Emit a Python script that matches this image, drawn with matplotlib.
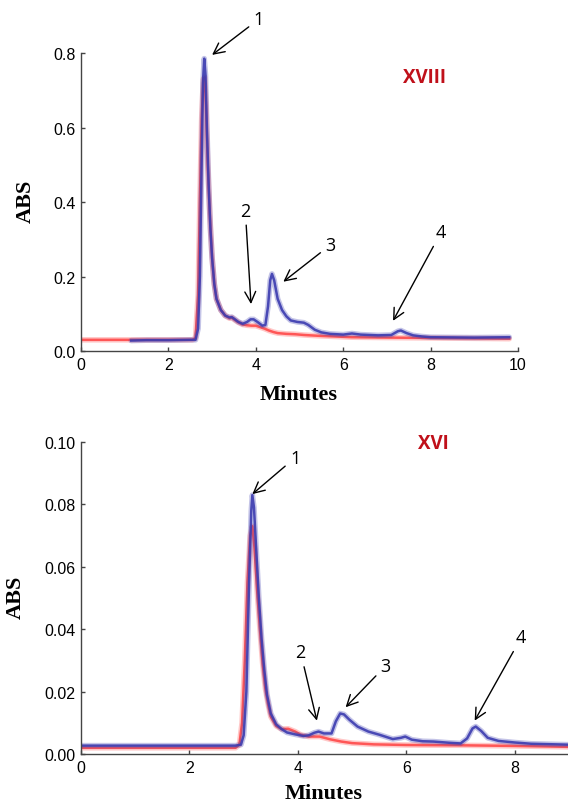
import numpy as np
import matplotlib
matplotlib.use('Agg')
import matplotlib.pyplot as plt

plt.rcParams['font.family'] = ['Liberation Sans', 'DejaVu Sans']

RED = '#ff4a4a'
BLUE = '#3c3cb0'
LABEL_RED = '#c0101a'

# chromatogram XVIII (top)
top_red_t = [0.0, 2.55, 2.62, 2.68, 2.72, 2.76, 2.80, 2.83, 2.86, 2.90, 2.95, 3.00, 3.05,
             3.10, 3.20, 3.30, 3.40, 3.45, 3.50, 3.60, 3.70, 3.80, 3.90, 4.00, 4.10, 4.20,
             4.30, 4.40, 4.50, 4.70, 4.90, 5.10, 5.40, 5.80, 6.20, 7.00, 8.00, 9.00, 9.80]
top_red_a = [0.030, 0.030, 0.035, 0.15, 0.40, 0.62, 0.73, 0.735, 0.66, 0.50, 0.36, 0.25, 0.18,
             0.14, 0.11, 0.095, 0.088, 0.090, 0.085, 0.077, 0.071, 0.069, 0.068, 0.068, 0.064, 0.060,
             0.055, 0.051, 0.048, 0.046, 0.045, 0.043, 0.041, 0.039, 0.037, 0.036, 0.035, 0.034, 0.033]

top_blue_t = [1.15, 1.50, 2.00, 2.50, 2.62, 2.68, 2.72, 2.76, 2.79, 2.82, 2.85, 2.88, 2.92,
              2.96, 3.00, 3.05, 3.10, 3.20, 3.30, 3.40, 3.45, 3.50, 3.60, 3.70, 3.80, 3.88,
              3.95, 4.05, 4.15, 4.22, 4.28, 4.33, 4.37, 4.42, 4.50, 4.60, 4.70, 4.80, 4.95,
              5.10, 5.20, 5.35, 5.50, 5.70, 6.00, 6.20, 6.40, 6.80, 7.10, 7.25, 7.32, 7.45,
              7.60, 7.80, 8.00, 9.00, 9.80]
top_blue_a = [0.028, 0.029, 0.029, 0.030, 0.030, 0.06, 0.20, 0.50, 0.72, 0.785, 0.74, 0.60, 0.45,
              0.33, 0.25, 0.18, 0.14, 0.11, 0.095, 0.090, 0.091, 0.087, 0.078, 0.073, 0.078, 0.085,
              0.085, 0.077, 0.068, 0.070, 0.12, 0.19, 0.207, 0.19, 0.14, 0.11, 0.093, 0.082, 0.078,
              0.076, 0.070, 0.057, 0.050, 0.046, 0.044, 0.047, 0.044, 0.042, 0.043, 0.053, 0.055, 0.048,
              0.042, 0.039, 0.037, 0.036, 0.037]

# chromatogram XVI (bottom)
bot_red_t = [0.0, 2.85, 2.92, 2.97, 3.02, 3.07, 3.12, 3.16, 3.20, 3.25, 3.30, 3.35, 3.40,
             3.45, 3.50, 3.60, 3.70, 3.82, 3.95, 4.05, 4.20, 4.40, 4.60, 4.80, 5.00, 5.40,
             6.00, 7.00, 8.00, 9.00]
bot_red_a = [0.0020, 0.0020, 0.0030, 0.010, 0.030, 0.055, 0.070, 0.073, 0.066, 0.052, 0.040, 0.029, 0.021,
             0.016, 0.012, 0.0090, 0.0080, 0.0081, 0.0072, 0.0062, 0.0056, 0.0056, 0.0047, 0.0040, 0.0035, 0.0031,
             0.0029, 0.0028, 0.0026, 0.0023]

bot_blue_t = [0.0, 2.85, 2.95, 3.00, 3.05, 3.10, 3.14, 3.16, 3.19, 3.23, 3.28, 3.33, 3.38,
              3.43, 3.50, 3.60, 3.70, 3.80, 3.95, 4.10, 4.20, 4.30, 4.38, 4.48, 4.62, 4.70,
              4.78, 4.85, 4.95, 5.10, 5.30, 5.50, 5.75, 5.90, 5.98, 6.10, 6.30, 6.50, 6.80,
              7.00, 7.12, 7.22, 7.28, 7.38, 7.50, 7.70, 8.00, 8.30, 9.00]
bot_blue_a = [0.0027, 0.0027, 0.0030, 0.006, 0.020, 0.055, 0.078, 0.083, 0.079, 0.066, 0.050, 0.037, 0.027,
              0.019, 0.013, 0.0095, 0.0080, 0.0069, 0.0063, 0.0058, 0.0060, 0.0068, 0.0072, 0.0066, 0.0066, 0.0105,
              0.0130, 0.0127, 0.0110, 0.0088, 0.0072, 0.0062, 0.0048, 0.0052, 0.0056, 0.0046, 0.0041, 0.0040, 0.0036,
              0.0034, 0.0050, 0.0082, 0.0088, 0.0074, 0.0052, 0.0042, 0.0037, 0.0033, 0.0030]

# peak labels: (label, arrow tip, text position)
top_peaks = [('1', (3.00, 0.795), (4.07, 0.891)),
             ('2', (3.89, 0.126), (3.76, 0.377)),
             ('3', (4.63, 0.186), (5.71, 0.285)),
             ('4', (7.14, 0.081), (8.24, 0.319))]
bot_peaks = [('1', (3.16, 0.0833), (3.95, 0.0950)),
             ('2', (4.35, 0.0107), (4.05, 0.0326)),
             ('3', (4.88, 0.0150), (5.62, 0.0283)),
             ('4', (7.26, 0.0107), (8.12, 0.0374))]


def trace(ax, t, a, col):
    ax.plot(t, a, color=col, lw=4.0, alpha=0.3, solid_capstyle='round')
    ax.plot(t, a, color=col, lw=1.8, alpha=0.9)


def style(ax, xlim, ylim, xticks, yticks, xlab_y, ylab_x):
    ax.set_xlim(*xlim); ax.set_ylim(*ylim)
    ax.set_xticks(xticks)
    ax.set_yticks(yticks)
    for s in ['top', 'right']:
        ax.spines[s].set_visible(False)
    for s in ['left', 'bottom']:
        ax.spines[s].set_color('#444444'); ax.spines[s].set_linewidth(1.0)
    ax.tick_params(direction='in', length=3, width=1, color='#444444',
                   labelsize=11.5, pad=4)
    ax.set_xlabel('Minutes', family='Liberation Serif', fontweight='bold', fontsize=16, va='center')
    ax.set_ylabel('ABS', family='Liberation Serif', fontweight='bold', fontsize=16, va='center')
    ax.xaxis.set_label_coords(0.498, xlab_y)
    ax.yaxis.set_label_coords(ylab_x, 0.505)


def peaks(ax, items):
    for lab, tip, txt in items:
        ax.annotate(lab, xy=tip, xytext=txt, ha='center', va='center',
                    fontsize=13, family='Open Sans', annotation_clip=False,
                    arrowprops=dict(arrowstyle='->,head_length=0.6,head_width=0.3',
                                    color='black', lw=1.0, shrinkA=2, shrinkB=0))


fig = plt.figure(figsize=(5.68, 8.04), dpi=100)
ax1 = fig.add_axes([0.1426, 0.5622, 0.7694, 0.3706])
ax2 = fig.add_axes([0.1426, 0.0609, 0.8592, 0.3881])

trace(ax1, top_red_t, top_red_a, RED)
trace(ax1, top_blue_t, top_blue_a, BLUE)
style(ax1, (0, 10), (0, 0.8), [0, 2, 4, 6, 8, 10], [0, 0.2, 0.4, 0.6, 0.8], -0.144, -0.126)
peaks(ax1, top_peaks)
ax1.text(7.87, 0.735, 'XVIII', color=LABEL_RED, fontsize=13.5, fontweight='bold',
         family='Open Sans', ha='center', va='center')

trace(ax2, bot_red_t, bot_red_a, RED)
trace(ax2, bot_blue_t, bot_blue_a, BLUE)
style(ax2, (0, 9), (0, 0.10), [0, 2, 4, 6, 8], [0, 0.02, 0.04, 0.06, 0.08, 0.10], -0.124, -0.133)
ax2.set_yticklabels(['0.00', '0.02', '0.04', '0.06', '0.08', '0.10'])
peaks(ax2, bot_peaks)
ax2.text(6.49, 0.0997, 'XVI', color=LABEL_RED, fontsize=13.5, fontweight='bold',
         family='Open Sans', ha='center', va='center')

fig.savefig('out.png', dpi=100)
